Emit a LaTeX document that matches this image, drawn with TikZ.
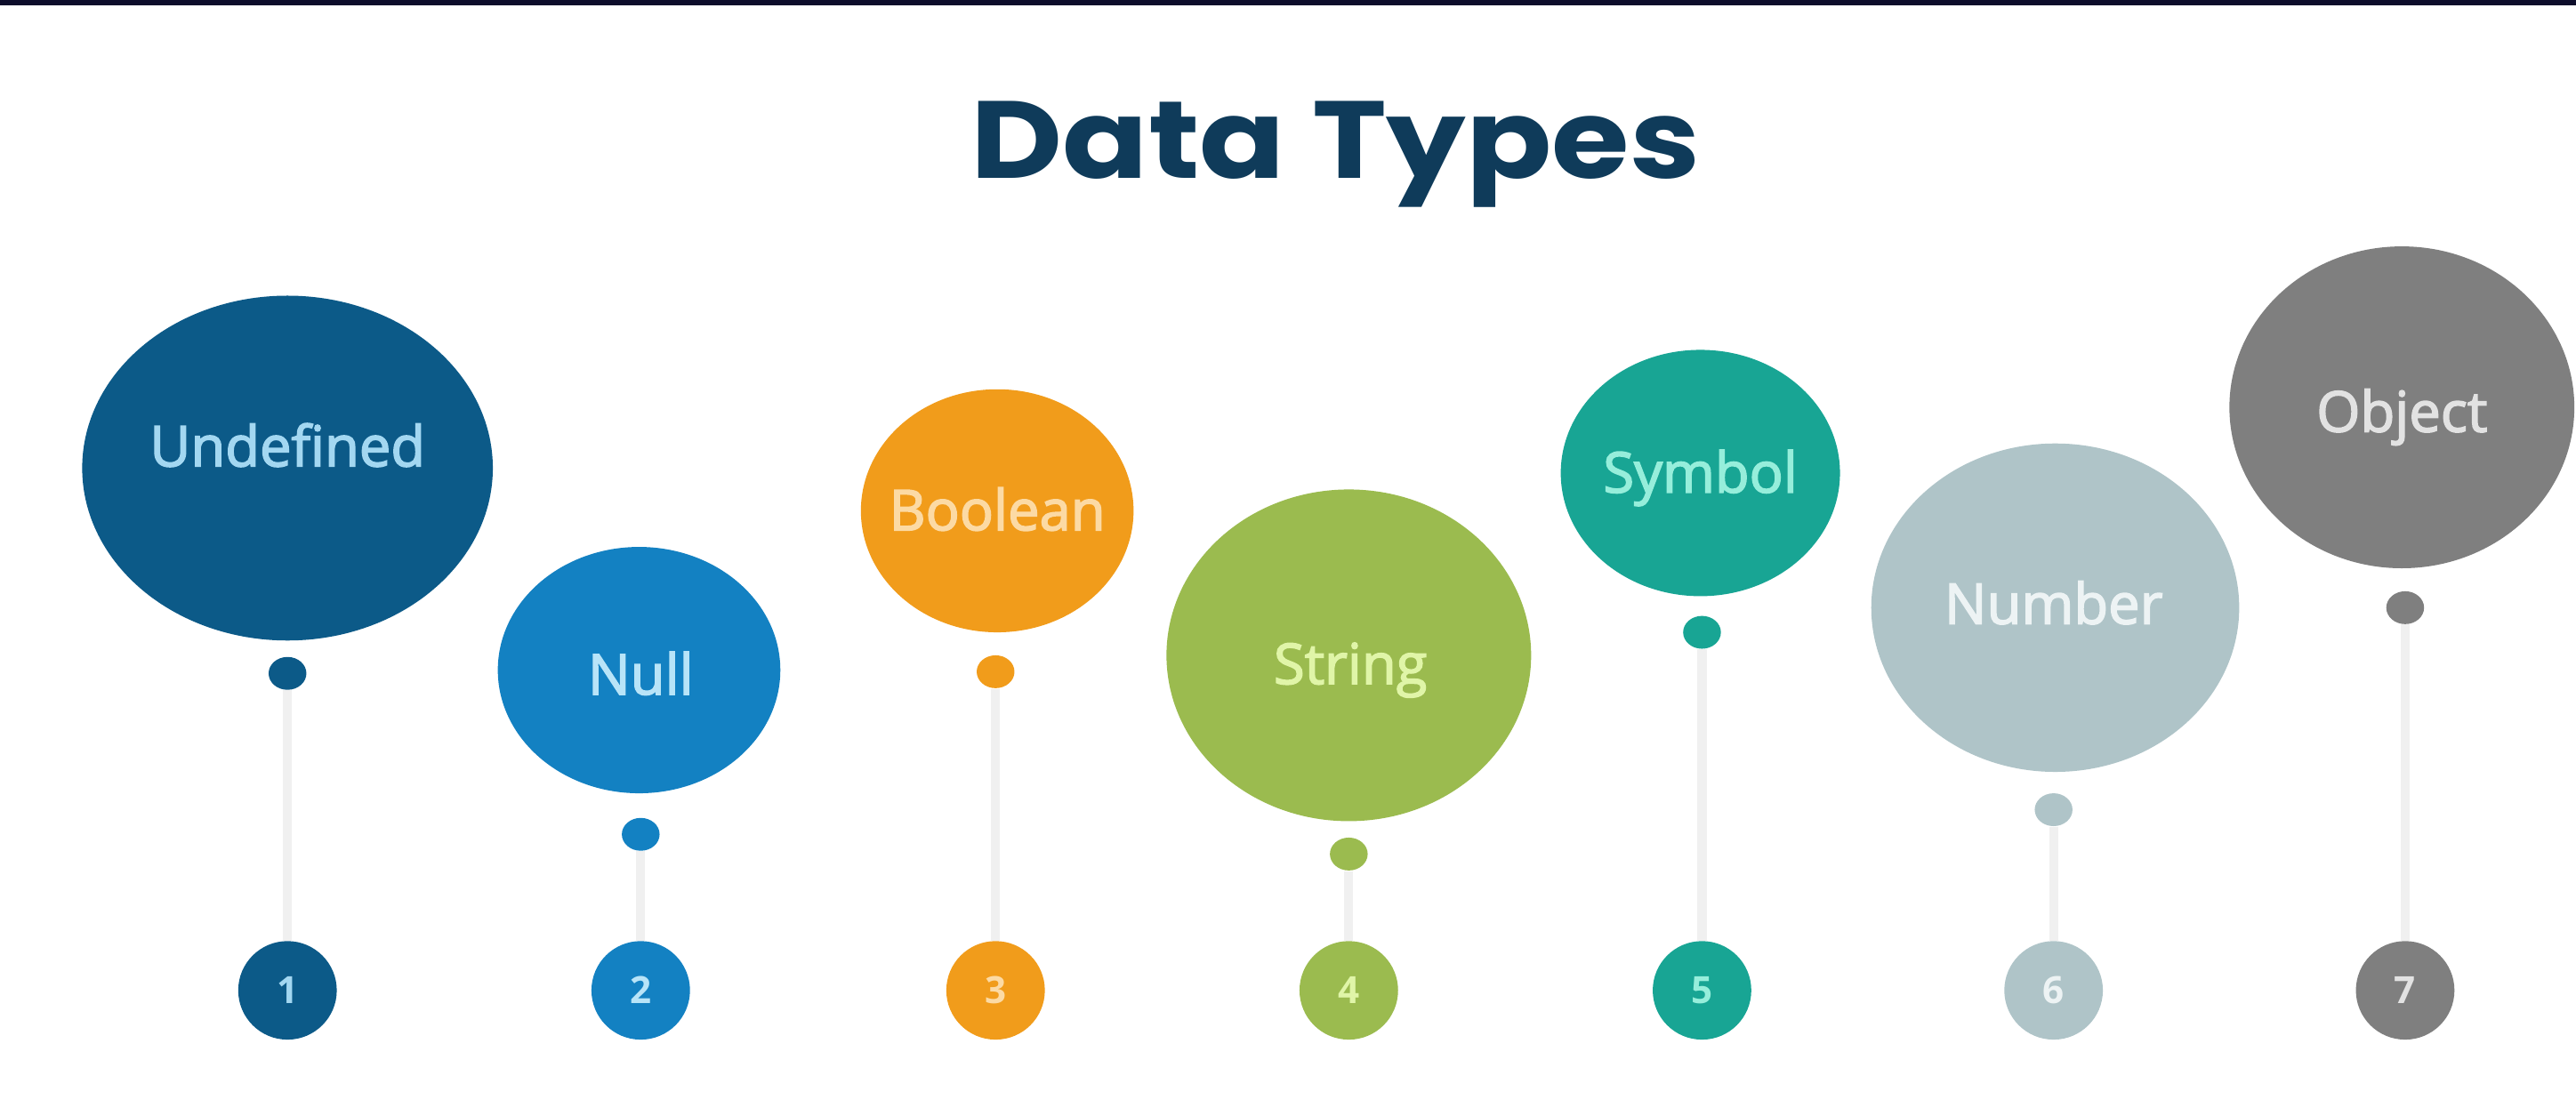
\documentclass[tikz,border=0pt]{standalone}
\usepackage{fontspec}
\setmainfont{Open Sans}
\newfontfamily\labelfont{Open Sans}[FakeBold=2.5]
\newfontfamily\titlefont{Poppins}
\usetikzlibrary{shapes.geometric}

\definecolor{band}{HTML}{0D0D2B}
\definecolor{titleblue}{HTML}{0F3B5A}
\definecolor{stem}{HTML}{F0F0F0}
\definecolor{cA}{HTML}{0C5A88}\definecolor{tA}{HTML}{A3D7F1}
\definecolor{cB}{HTML}{1381C2}\definecolor{tB}{HTML}{B8E4F8}
\definecolor{cC}{HTML}{F19C1B}\definecolor{tC}{HTML}{FCDAA4}
\definecolor{cD}{HTML}{9BBB4F}\definecolor{tD}{HTML}{E0F5A8}
\definecolor{cE}{HTML}{18A594}\definecolor{tE}{HTML}{96EEDB}
\definecolor{cF}{HTML}{AFC4C8}\definecolor{tF}{HTML}{EDF3F4}
\definecolor{cG}{HTML}{7F7F7F}\definecolor{tG}{HTML}{E2E2E2}

\tikzset{
  bubble/.style={ellipse, inner sep=0pt, fill=#1},
  bubbletext/.style={text=#1, font=\labelfont\fontsize{19.5}{22}\selectfont, inner sep=0pt},
  knot/.style={ellipse, inner sep=0pt, fill=#1, minimum width=0.46cm, minimum height=0.4cm},
  badge/.style={ellipse, inner sep=0pt, fill=#1, minimum width=1.2cm, minimum height=1.2cm,
                font=\bfseries\fontsize{13}{14}\selectfont},
  stemline/.style={draw=stem, line width=0.11cm}
}

\begin{document}
\begin{tikzpicture}[x=0.02cm, y=-0.02cm]
  % page frame and top band
  \fill[white] (0,0) rectangle (1568,679);
  \useasboundingbox (0,0) rectangle (1568,679);
  \fill[band] (0,0) rectangle (1568,3);

  % heading
  \node[text=titleblue, font=\titlefont\bfseries\fontsize{38}{40}\selectfont, inner sep=0pt]
    (title) at (813,94) {\scalebox{1.15}[1]{Data Types}};

  % knots under the bubbles, numbered badges at the foot, stems between
  \foreach \i/\x/\ky/\c/\t in {1/175/410/cA/tA, 2/390/508/cB/tB, 3/606/409/cC/tC,
      4/821/520/cD/tD, 5/1036/385/cE/tE, 6/1250/493/cF/tF, 7/1464/370/cG/tG}{
    \node[knot=\c] (d\i) at (\x,\ky) {};
    \node[badge=\c, text=\t] (n\i) at (\x,603) {\i};
    \draw[stemline] (d\i.south) -- (n\i.north);
  }

  % bubbles
  \node[bubble=cA, minimum width=5cm,    minimum height=4.2cm]  (e1) at (175,285) {};
  \node[bubble=cB, minimum width=3.44cm, minimum height=3cm]    (e2) at (389,408) {};
  \node[bubble=cC, minimum width=3.32cm, minimum height=2.96cm] (e3) at (607,311) {};
  \node[bubble=cD, minimum width=4.44cm, minimum height=4.04cm] (e4) at (821,399) {};
  \node[bubble=cE, minimum width=3.4cm,  minimum height=3cm]    (e5) at (1035,288) {};
  \node[bubble=cF, minimum width=4.48cm, minimum height=4cm]    (e6) at (1251,370) {};
  \node[bubble=cG, minimum width=4.2cm,  minimum height=3.92cm] (e7) at (1462,248) {};

  % bubble labels
  \node[bubbletext=tA] (l1) at (175,271) {Undefined};
  \node[bubbletext=tB] (l2) at (390,410) {Null};
  \node[bubbletext=tC] (l3) at (607,310) {Boolean};
  \node[bubbletext=tD] (l4) at (822,408) {String};
  \node[bubbletext=tE] (l5) at (1035,291) {Symbol};
  \node[bubbletext=tF] (l6) at (1250,367) {Number};
  \node[bubbletext=tG] (l7) at (1462,254) {Object};
\end{tikzpicture}
\end{document}
